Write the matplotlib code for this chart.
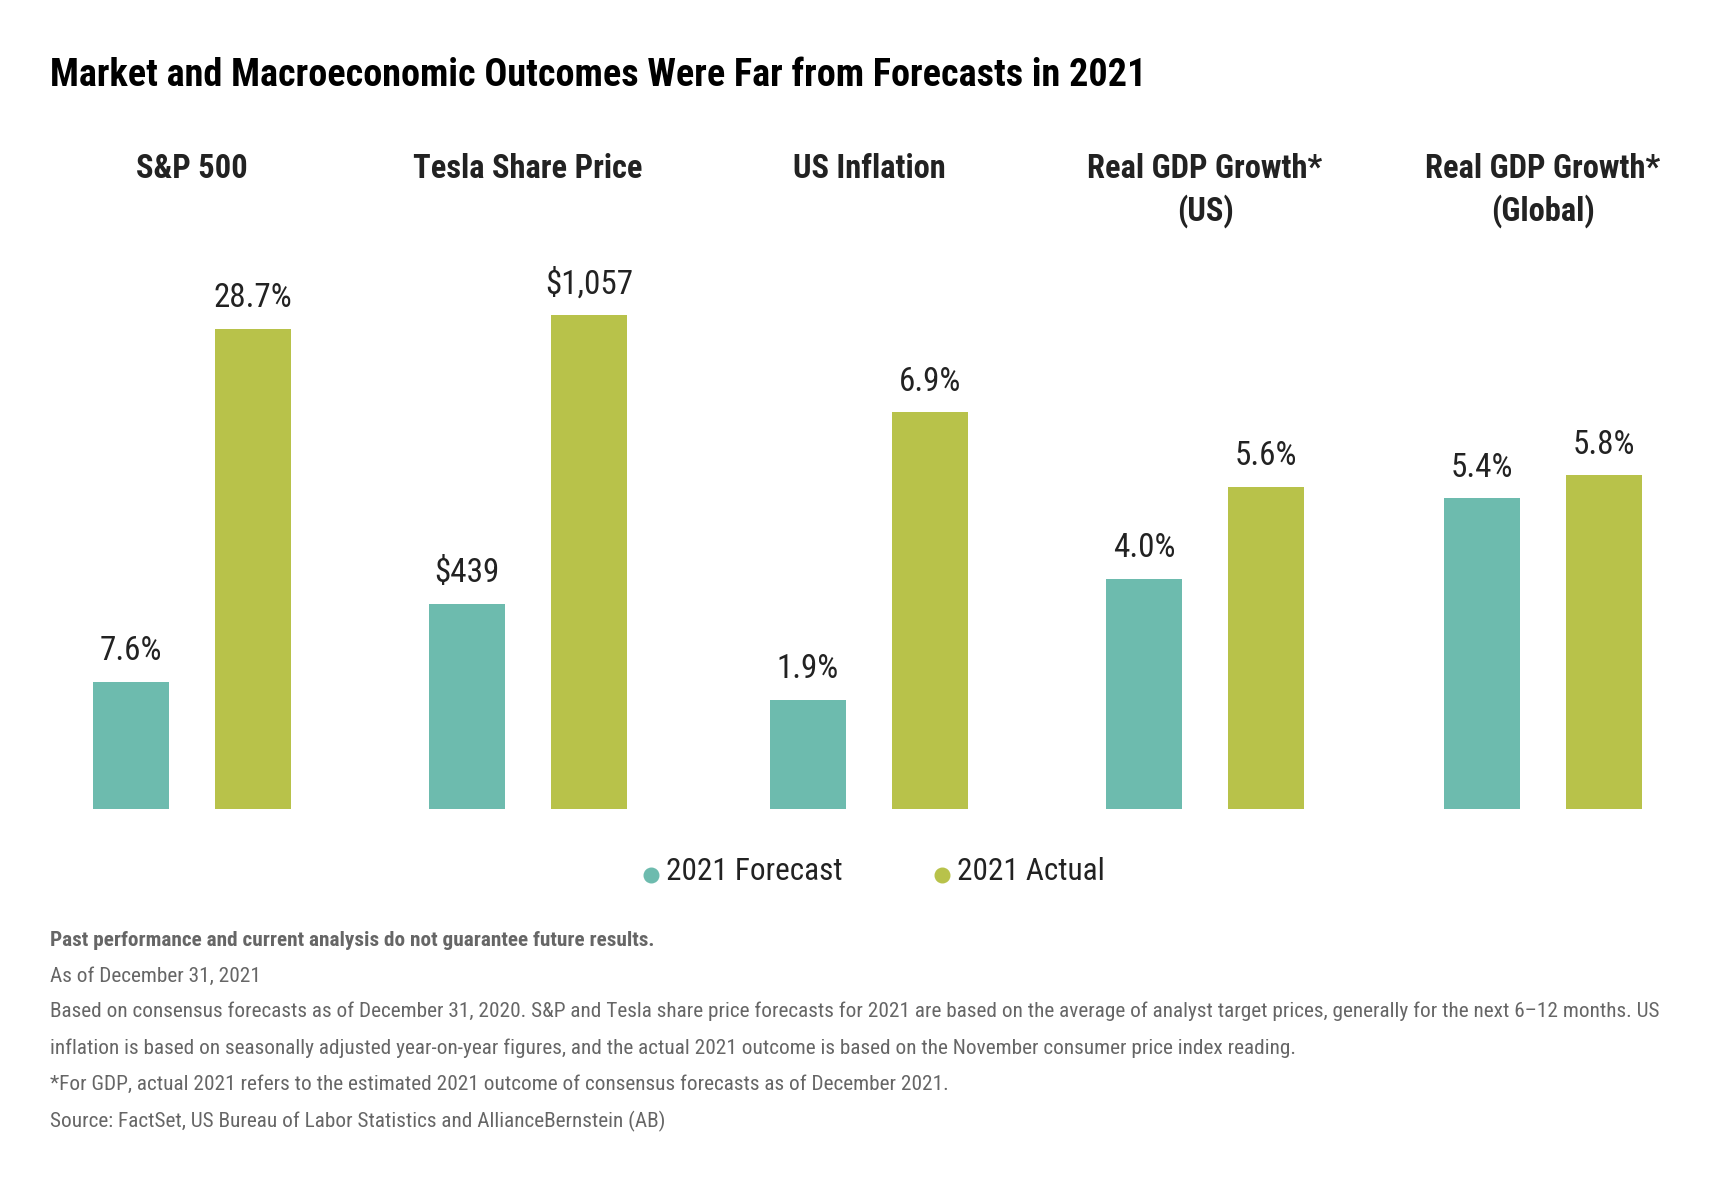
import os
import matplotlib
matplotlib.use("Agg")
import matplotlib.pyplot as plt
from matplotlib import font_manager
from matplotlib.font_manager import FontProperties
from matplotlib.lines import Line2D

# data
groups = ["S&P 500", "Tesla Share Price", "US Inflation",
          "Real GDP Growth*\n(US)", "Real GDP Growth*\n(Global)"]
forecast = [7.6, 439, 1.9, 4.0, 5.4]
actual = [28.7, 1057, 6.9, 5.6, 5.8]
units = ["pct", "usd", "pct", "pct", "pct"]
series_names = ["2021 Forecast", "2021 Actual"]

title = "Market and Macroeconomic Outcomes Were Far from Forecasts in 2021"
notes = [
    "Past performance and current analysis do not guarantee future results.",
    "As of December 31, 2021",
    "Based on consensus forecasts as of December 31, 2020. S&P and Tesla share price forecasts for 2021 are based on the average of analyst target prices, generally for the next 6\u201312 months. US",
    "inflation is based on seasonally adjusted year-on-year figures, and the actual 2021 outcome is based on the November consumer price index reading.",
    "*For GDP, actual 2021 refers to the estimated 2021 outcome of consensus forecasts as of December 2021.",
    "Source: FactSet, US Bureau of Labor Statistics and AllianceBernstein (AB)",
]

teal = "#6dbbae"
green = "#b8c24a"
dark = "#222222"
grey = "#666666"


def fmt(v, unit):
    if unit == "usd":
        return "${:,.0f}".format(v)
    return "{:.1f}%".format(v)


# look for a condensed face, fall back to plain sans
def find_font(target_w):
    rank = ["roboto", "opensans", "open sans", "noto", "liberation", "dejavu"]
    best = None
    for f in font_manager.fontManager.ttflist:
        key = (f.name + " " + os.path.basename(f.fname)).lower()
        if "italic" in key or "oblique" in key or f.style != "normal":
            continue
        if not ("condensed" in key or "narrow" in key or f.stretch in ("condensed", "semi-condensed")):
            continue
        if "mono" in key or ("serif" in key and "sans" not in key):
            continue
        w = f.weight if isinstance(f.weight, int) else (700 if "bold" in str(f.weight) else 400)
        if target_w >= 600 and w < 600:
            continue
        if target_w < 600 and (w < 350 or w > 500):
            continue
        r = next((i for i, n in enumerate(rank) if n in key), len(rank))
        score = (r, abs(w - target_w))
        if best is None or score < best[0]:
            best = (score, f.fname)
    if best:
        return FontProperties(fname=best[1])
    return FontProperties(family="Roboto", weight="bold" if target_w >= 600 else "normal")


fp_black = find_font(850)
fp_bold = find_font(700)
fp_reg = find_font(400)

W, H = 1726, 1182
fig = plt.figure(figsize=(W / 100, H / 100), dpi=100)
fig.patch.set_facecolor("white")
renderer = fig.canvas.get_renderer()


def size_for(s, target, fp):
    t = fig.text(0, 0, s, fontproperties=fp, fontsize=10)
    w = t.get_window_extent(renderer=renderer).width
    t.remove()
    return 10 * target / w


def fx(px):
    return px / W


def fy(py):
    return 1 - py / H


# layout in pixels
centers = [192, 528, 869, 1205, 1543]
base_y = 809
ax_h = 500
px_per_pct = 57.5

lab_size = size_for("28.7%", 78, fp_reg)
head_size = size_for("Tesla Share Price", 230, fp_bold)

for i, name in enumerate(groups):
    cx = centers[i]
    ax = fig.add_axes([fx(cx - 122), fy(base_y), fx(244), ax_h / H])
    vals = [forecast[i], actual[i]]
    ax.bar([0, 1], vals, width=0.615, color=[teal, green])
    ax.set_xlim(-0.5, 1.5)
    if i >= 2:
        ax.set_ylim(0, ax_h / px_per_pct)
    else:
        # own scale for the market panels so the tallest bar sits near the top
        ax.set_ylim(0, actual[i] * ax_h / (480 if i == 0 else 494))
    ax.axis("off")
    for x, v in zip([0, 1], vals):
        ax.annotate(fmt(v, units[i]), (x, v), xytext=(0, 15.5), textcoords="offset points",
                    ha="center", va="baseline", fontproperties=fp_reg,
                    fontsize=lab_size, color=dark)
    for j, line in enumerate(name.split("\n")):
        fig.text(fx(cx), fy(169 + 42 * j), line, ha="center", va="center",
                 fontproperties=fp_bold, fontsize=head_size, color=dark)

# title
t_size = size_for(title, 1092, fp_black)
fig.text(fx(50), fy(75), title, ha="left", va="center", fontproperties=fp_black,
         fontsize=t_size, color="black")

# legend
leg_size = size_for("2021 Forecast", 175, fp_reg)
handles = [Line2D([], [], marker="o", ls="", color=c, markersize=10.5)
           for c in [teal, green]]
leg = fig.legend(handles, series_names, loc="center", bbox_to_anchor=(fx(876), fy(871)),
                 ncol=2, frameon=False, prop=fp_reg,
                 handlelength=0.6, handletextpad=0.8, columnspacing=6.85,
                 labelcolor=dark)
for txt in leg.get_texts():
    txt.set_fontsize(leg_size)

# footnotes
n_size = size_for(notes[2], 1603, fp_reg)
note_y = [940, 976, 1011, 1048, 1084, 1121]
for k, line in enumerate(notes):
    fig.text(fx(50), fy(note_y[k]), line, ha="left", va="center",
             fontproperties=fp_bold if k == 0 else fp_reg,
             fontsize=n_size, color=grey)

fig.savefig("out.png", dpi=100, facecolor="white")
